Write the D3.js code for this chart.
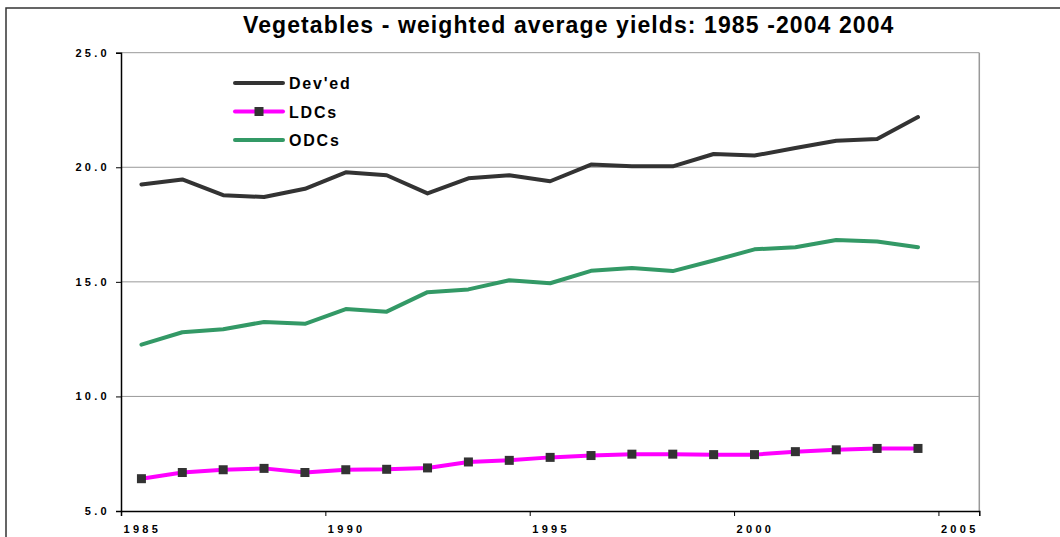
<!DOCTYPE html>
<html>
<head>
<meta charset="utf-8">
<script src="https://cdn.jsdelivr.net/npm/d3@7/dist/d3.min.js"></script>
<style>
  body { margin: 0; background: #fff; }
  text { font-family: "Liberation Sans", Arial, sans-serif; font-weight: bold; fill: #000; }
</style>
</head>
<body>
<div id="chart"></div>
<script>
// data
const years = [1985, 1986, 1987, 1988, 1989, 1990, 1991, 1992, 1993, 1994,
               1995, 1996, 1997, 1998, 1999, 2000, 2001, 2002, 2003, 2004];
const deved = [19.25, 19.47, 18.78, 18.70, 19.06, 19.78, 19.65, 18.86, 19.52, 19.65,
               19.39, 20.12, 20.04, 20.04, 20.58, 20.51, 20.84, 21.16, 21.23, 22.19];
const ldcs  = [6.41, 6.68, 6.80, 6.86, 6.68, 6.80, 6.82, 6.88, 7.14, 7.21,
               7.34, 7.42, 7.48, 7.48, 7.46, 7.46, 7.59, 7.67, 7.73, 7.73];
const odcs  = [12.26, 12.80, 12.93, 13.25, 13.17, 13.81, 13.70, 14.55, 14.67, 15.07,
               14.94, 15.48, 15.60, 15.47, 15.93, 16.42, 16.51, 16.83, 16.76, 16.51];
const yTicks = [5, 10, 15, 20, 25];
const xTicks = [1985, 1990, 1995, 2000, 2005];
const title = "Vegetables - weighted average yields: 1985 -2004 2004";

const series = [
  { name: "Dev'ed", values: deved, color: "#333333", marker: false },
  { name: "LDCs",   values: ldcs,  color: "#ff00ff", marker: true },
  { name: "ODCs",   values: odcs,  color: "#339966", marker: false }
];

const width = 1060, height = 537;
const plot = { left: 121, top: 52.7, right: 979.3, bottom: 511 };

const svg = d3.select("#chart").append("svg")
    .attr("width", width)
    .attr("height", height);

// outer frame (runs off the right/bottom edge like the source)
svg.append("rect")
    .attr("x", 6).attr("y", 8)
    .attr("width", width + 20).attr("height", height + 20)
    .attr("fill", "none")
    .attr("stroke", "#333")
    .attr("stroke-width", 1.5);

svg.append("text")
    .attr("x", 243).attr("y", 32.5)
    .attr("font-size", 23)
    .attr("letter-spacing", 1.1)
    .text(title);

const x = d3.scaleLinear().domain([1985, 2006]).range([plot.left, plot.right]);
const y = d3.scaleLinear().domain([5, 25]).range([plot.bottom, plot.top]);

// gridlines + right border
svg.append("g")
  .selectAll("line")
  .data(yTicks.slice(1))
  .join("line")
    .attr("x1", plot.left).attr("x2", plot.right)
    .attr("y1", d => y(d)).attr("y2", d => y(d))
    .attr("stroke", "#999").attr("stroke-width", 1);

svg.append("line")
    .attr("x1", plot.right).attr("x2", plot.right)
    .attr("y1", plot.top).attr("y2", plot.bottom)
    .attr("stroke", "#999").attr("stroke-width", 1.5);

// axes
const yAxis = svg.append("g")
    .attr("transform", `translate(${plot.left},0)`)
    .call(d3.axisLeft(y).tickValues(yTicks).tickFormat(d3.format(".1f")).tickSize(5).tickPadding(9));
yAxis.select(".domain").attr("stroke", "#000").attr("stroke-width", 1.5);
yAxis.selectAll(".tick line").attr("stroke", "#000");
yAxis.selectAll("text")
    .attr("font-size", 11)
    .attr("letter-spacing", 3.3)
    .attr("dx", 3)
    .attr("fill", "#000")
    .attr("font-family", "Liberation Sans, Arial, sans-serif")
    .attr("font-weight", "bold");

const xAxis = svg.append("g")
    .attr("transform", `translate(0,${plot.bottom})`)
    .call(d3.axisBottom(x).tickValues(xTicks).tickFormat(d3.format("d")).tickSize(5).tickPadding(9));
xAxis.select(".domain").attr("stroke", "#000").attr("stroke-width", 1.5);
xAxis.selectAll(".tick line").attr("stroke", "#000");
xAxis.selectAll("text")
    .attr("text-anchor", "start")
    .attr("dx", 2)
    .attr("font-size", 11)
    .attr("letter-spacing", 3.3)
    .attr("fill", "#000")
    .attr("font-family", "Liberation Sans, Arial, sans-serif")
    .attr("font-weight", "bold");

// lines (points sit mid-year)
const line = d3.line()
    .x((d, i) => x(years[i] + 0.5))
    .y(d => y(d));

series.forEach(s => {
  svg.append("path")
      .datum(s.values)
      .attr("fill", "none")
      .attr("stroke", s.color)
      .attr("stroke-width", 4)
      .attr("stroke-linejoin", "round")
      .attr("stroke-linecap", "round")
      .attr("d", line);
  if (s.marker) {
    svg.append("g")
      .selectAll("rect")
      .data(s.values)
      .join("rect")
        .attr("x", (d, i) => x(years[i] + 0.5) - 4.5)
        .attr("y", d => y(d) - 4.5)
        .attr("width", 9).attr("height", 9)
        .attr("fill", "#333");
  }
});

// legend
const legend = svg.append("g").attr("transform", "translate(235,83)");
series.forEach((s, i) => {
  const g = legend.append("g").attr("transform", `translate(0,${i * 28.5})`);
  g.append("line")
      .attr("x1", 0).attr("x2", 48)
      .attr("stroke", s.color).attr("stroke-width", 4)
      .attr("stroke-linecap", "round");
  if (s.marker) {
    g.append("rect").attr("x", 19.5).attr("y", -4.5).attr("width", 9).attr("height", 9).attr("fill", "#333");
  }
  g.append("text")
      .attr("x", 54).attr("y", 6)
      .attr("font-size", 16)
      .attr("letter-spacing", 1.8)
      .text(s.name);
});
</script>
</body>
</html>
